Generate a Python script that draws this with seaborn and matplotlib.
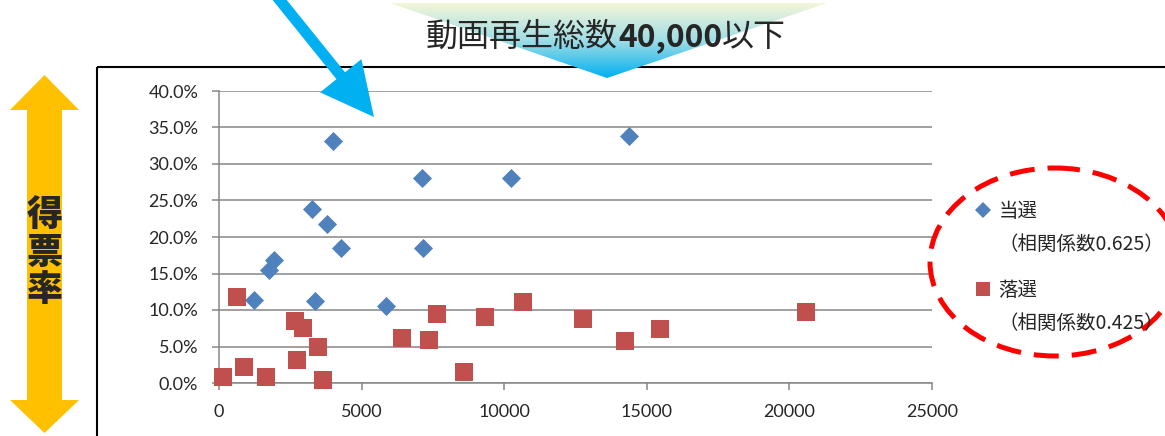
import numpy as np
import pandas as pd
import seaborn as sns
import matplotlib.pyplot as plt
import matplotlib.patches as mpatches
from matplotlib.lines import Line2D
from matplotlib.ticker import PercentFormatter
from matplotlib.colors import LinearSegmentedColormap

# 当選 (elected) : total video views vs vote share (%)
win_views = [3990, 7110, 10250, 3260, 3790, 4280, 7170, 1940, 1750, 1210, 3380, 5860, 14390]
win_rate = [33.2, 28.1, 28.1, 23.9, 21.8, 18.5, 18.5, 16.9, 15.5, 11.4, 11.2, 10.5, 33.9]

# 落選 (not elected)
lose_views = [150, 630, 870, 1650, 2680, 2930, 2750, 3460, 3650, 6420, 7380, 7630,
              8590, 9320, 10650, 12750, 14250, 15450, 20590]
lose_rate = [0.8, 11.8, 2.2, 0.8, 8.5, 7.6, 3.2, 5.0, 0.4, 6.2, 5.9, 9.4,
             1.5, 9.0, 11.1, 8.8, 5.7, 7.4, 9.7]

x_ticks = [0, 5000, 10000, 15000, 20000, 25000]
y_ticks = [0, 0.05, 0.10, 0.15, 0.20, 0.25, 0.30, 0.35, 0.40]

win_label = "当選"
lose_label = "落選"
win_corr = "（相関係数0.625）"
lose_corr = "（相関係数0.425）"
title_parts = ["動画再生総数", "40,000", "以下"]
y_title = ["得", "票", "率"]

win = pd.DataFrame({"views": win_views, "rate": np.array(win_rate) / 100})
lose = pd.DataFrame({"views": lose_views, "rate": np.array(lose_rate) / 100})

sns.set_style("white")
plt.rcParams["font.family"] = ["Lato", "DejaVu Sans"]
jp = ["Noto Sans CJK JP", "DejaVu Sans"]

blue = "#4f81bd"
red = "#c0504d"
grid_c = "#868686"

fig = plt.figure(figsize=(11.65, 4.36), dpi=100)
ax = fig.add_axes([219 / 1165, 1 - 383 / 436, 713 / 1165, 292 / 436])

sns.scatterplot(data=win, x="views", y="rate", marker="D", s=94, color=blue,
                linewidth=0, ax=ax, zorder=3, clip_on=False, legend=False)
sns.scatterplot(data=lose, x="views", y="rate", marker="s", s=150, color=red,
                linewidth=0, ax=ax, zorder=3, clip_on=False, legend=False)

ax.set_xlim(0, 25000)
ax.set_ylim(0, 0.4)
ax.set_xticks(x_ticks)
ax.set_yticks(y_ticks)
ax.yaxis.set_major_formatter(PercentFormatter(1, decimals=1))
ax.set_xlabel("")
ax.set_ylabel("")
ax.grid(axis="y", color=grid_c, lw=1.1)
ax.set_axisbelow(True)
for s in ["top", "right"]:
    ax.spines[s].set_visible(False)
for s in ["left", "bottom"]:
    ax.spines[s].set_color(grid_c)
    ax.spines[s].set_linewidth(1.1)
ax.tick_params(direction="out", length=5, width=1.1, color=grid_c,
               labelsize=13, pad=10, bottom=True, left=True)

# overlay in pixel coordinates for the decorations
ov = fig.add_axes([0, 0, 1, 1], zorder=5)
ov.set_xlim(0, 1165)
ov.set_ylim(436, 0)
ov.axis("off")

# chart frame
ov.add_patch(mpatches.Rectangle((97, 67), 1100, 400, fill=False, ec="black", lw=1.5, zorder=1))

# gradient triangle behind the title
tri = mpatches.Polygon([(390, 3), (827, 3), (607, 78)], closed=True, fc="none", ec="none")
ov.add_patch(tri)
cmap = LinearSegmentedColormap.from_list("tri", ["#f4f6d8", "#9fdde6", "#00b0f0"])
grad = np.linspace(0, 1, 200).reshape(-1, 1)
im = ov.imshow(grad, cmap=cmap, extent=[390, 827, 78, 3], aspect="auto",
               origin="upper", zorder=2)
im.set_clip_path(tri)
ov.set_xlim(0, 1165)
ov.set_ylim(436, 0)

# title
t1 = ov.text(426, 46, title_parts[0], fontsize=23, family=jp, va="baseline", ha="left", zorder=7)
t2 = ov.annotate(title_parts[1], xy=(1, 0), xycoords=t1, fontsize=23, family=jp,
                 weight="bold", va="bottom", ha="left", zorder=7)
t3 = ov.annotate(title_parts[2], xy=(1, 0), xycoords=t2, fontsize=23, family=jp,
                 va="bottom", ha="left", zorder=7)

# blue pointer arrow
ov.add_patch(mpatches.FancyArrow(270, -12, 104, 129, width=11, head_width=53, head_length=53,
                                 length_includes_head=True, color="#00b0f0", lw=0, zorder=6))

# orange double arrow with vertical label
arrow_pts = [(44.5, 75), (79, 110), (62, 110), (62, 400), (79, 400), (44.5, 433),
             (10, 400), (27, 400), (27, 110), (10, 110)]
ov.add_patch(mpatches.Polygon(arrow_pts, closed=True, fc="#ffc000", ec="none", zorder=3))
for ch, yy in zip(y_title, [216, 253, 290]):
    ov.text(44.5, yy, ch, fontsize=26, family=jp, weight="heavy", ha="center", va="center", zorder=4)

# red dashed ellipse around legend
ov.add_patch(mpatches.Ellipse((1055, 262), 250, 188, fill=False, ec="#ff0000", lw=3.6,
                              ls=(0, (5, 2.6)), zorder=3))

# legends
h_win = Line2D([], [], marker="D", color=blue, linestyle="none", markersize=8.6, markeredgewidth=0)
h_lose = Line2D([], [], marker="s", color=red, linestyle="none", markersize=10.5, markeredgewidth=0)
blank = Line2D([], [], linestyle="none")
leg_kw = dict(loc="upper left", bbox_transform=ov.transData, frameon=False, borderpad=0,
              borderaxespad=0, handlelength=0.95, handletextpad=0.3, labelspacing=0.6,
              prop={"family": jp, "size": 14})
leg1 = ov.legend([h_win, blank], [win_label, win_corr], bbox_to_anchor=(974, 201), **leg_kw)
ov.add_artist(leg1)
leg2 = ov.legend([h_lose, blank], [lose_label, lose_corr], bbox_to_anchor=(974, 280), **leg_kw)

fig.savefig("out.png", dpi=100, facecolor="white")
